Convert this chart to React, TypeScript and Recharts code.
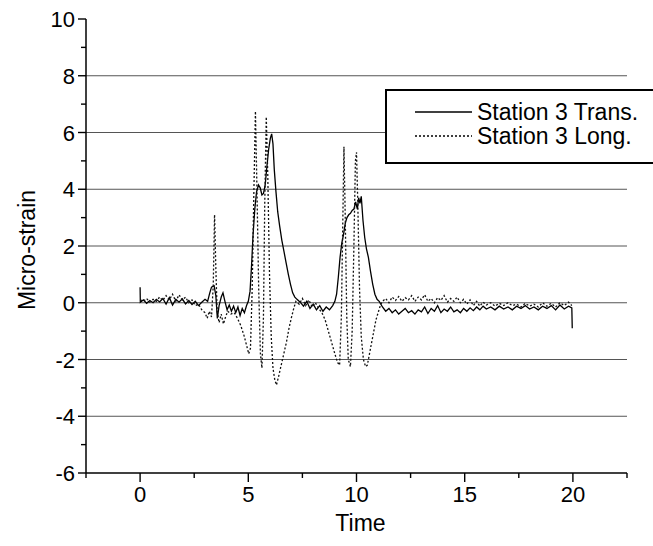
import { LineChart, Line, XAxis, YAxis, ReferenceLine, Legend } from "recharts";

// readings taken off the scanned plot: [time, micro-strain]
const transReadings: [number, number][] = [
  [0, 0.55], [0.01, 0.02], [0.15, 0.1], [0.3, -0.02], [0.45, 0.08], [0.6, 0.0], [0.75, 0.12],
  [0.9, 0.03], [1.05, 0.15], [1.2, -0.05], [1.35, 0.18], [1.5, -0.08], [1.65, 0.12], [1.8, 0.02],
  [1.95, 0.14], [2.1, -0.04], [2.25, 0.08], [2.4, -0.06], [2.55, 0.05], [2.7, -0.1], [2.85, 0.02],
  [3.0, 0.12], [3.12, 0.05], [3.22, 0.35], [3.3, 0.55], [3.42, 0.6], [3.5, 0.25], [3.57, -0.55],
  [3.65, -0.1], [3.75, 0.2], [3.83, 0.35], [3.92, 0.05], [4.02, -0.25], [4.12, -0.08], [4.22, -0.3],
  [4.32, -0.12], [4.42, -0.35], [4.52, -0.15], [4.62, -0.45], [4.72, -0.2], [4.82, -0.35], [4.92, -0.1],
  [5.0, 0.05], [5.08, 0.4], [5.15, 1.3], [5.22, 2.4], [5.3, 3.3], [5.38, 3.9], [5.47, 4.15],
  [5.55, 4.05], [5.63, 3.8], [5.7, 3.85], [5.78, 4.15], [5.86, 4.8], [5.94, 5.4], [6.02, 5.8],
  [6.08, 5.95], [6.14, 5.6], [6.2, 4.7], [6.28, 3.9], [6.36, 3.2], [6.45, 2.7], [6.55, 2.2],
  [6.65, 1.8], [6.75, 1.4], [6.85, 1.0], [6.95, 0.65], [7.05, 0.35], [7.15, 0.2], [7.25, 0.12],
  [7.4, 0.02], [7.55, -0.12], [7.7, 0.05], [7.85, -0.2], [8.0, -0.05], [8.15, -0.25], [8.3, -0.1],
  [8.45, -0.3], [8.6, -0.15], [8.75, -0.25], [8.9, -0.1], [9.0, 0.05], [9.08, 0.3], [9.16, 0.9],
  [9.24, 1.6], [9.32, 2.1], [9.4, 2.4], [9.48, 2.8], [9.56, 3.0], [9.64, 3.1], [9.72, 3.15],
  [9.8, 3.25], [9.88, 3.3], [9.96, 3.55], [10.04, 3.3], [10.1, 3.7], [10.16, 3.5], [10.22, 3.75],
  [10.3, 2.9], [10.38, 2.3], [10.46, 1.9], [10.55, 1.6], [10.65, 1.1], [10.75, 0.65], [10.85, 0.3],
  [10.95, 0.12], [11.05, 0.05], [11.2, -0.15], [11.35, -0.3], [11.5, -0.2], [11.65, -0.35], [11.8, -0.25],
  [11.95, -0.4], [12.1, -0.3], [12.25, -0.2], [12.4, -0.35], [12.55, -0.28], [12.7, -0.4], [12.85, -0.25],
  [13.0, -0.32], [13.15, -0.15], [13.3, -0.38], [13.45, -0.2], [13.6, -0.3], [13.75, -0.1], [13.9, -0.35],
  [14.05, -0.22], [14.2, -0.3], [14.35, -0.15], [14.5, -0.32], [14.65, -0.25], [14.8, -0.35], [14.95, -0.2],
  [15.1, -0.3], [15.25, -0.18], [15.4, -0.28], [15.55, -0.15], [15.7, -0.25], [15.85, -0.12], [16.0, -0.22],
  [16.2, -0.15], [16.4, -0.25], [16.6, -0.12], [16.8, -0.22], [17.0, -0.15], [17.2, -0.25], [17.4, -0.12],
  [17.6, -0.2], [17.8, -0.1], [18.0, -0.22], [18.2, -0.15], [18.4, -0.25], [18.6, -0.12], [18.8, -0.2],
  [19.0, -0.1], [19.2, -0.25], [19.4, -0.08], [19.6, -0.22], [19.8, -0.12], [19.95, -0.18], [19.97, -0.9],
];

const longReadings: [number, number][] = [
  [0, 0.1], [0.15, 0.05], [0.3, 0.15], [0.45, 0.02], [0.6, 0.12], [0.75, 0.05], [0.9, 0.2],
  [1.05, 0.08], [1.2, 0.25], [1.35, 0.1], [1.5, 0.3], [1.65, 0.05], [1.8, 0.28], [1.95, 0.1],
  [2.1, 0.2], [2.25, 0.0], [2.4, 0.1], [2.55, -0.1], [2.7, -0.05], [2.85, -0.25], [3.0, -0.35],
  [3.1, -0.55], [3.2, -0.3], [3.3, -0.5], [3.38, 0.6], [3.44, 3.1], [3.5, 1.2], [3.56, -0.3],
  [3.65, -0.7], [3.75, -0.4], [3.85, -0.75], [3.95, -0.5], [4.05, -0.3], [4.2, -0.4], [4.35, -0.35],
  [4.5, -0.55], [4.65, -0.8], [4.8, -1.15], [4.92, -1.5], [5.02, -1.8], [5.1, -1.6], [5.18, 0.5],
  [5.26, 4.0], [5.33, 6.75], [5.4, 4.0], [5.48, 0.5], [5.56, -1.8], [5.63, -2.3], [5.7, -0.5],
  [5.76, 3.5], [5.83, 6.55], [5.9, 4.5], [5.98, 1.0], [6.06, -1.2], [6.14, -2.3], [6.22, -2.7],
  [6.3, -2.9], [6.4, -2.6], [6.52, -2.2], [6.64, -1.8], [6.76, -1.4], [6.88, -0.9], [7.0, -0.5],
  [7.1, -0.2], [7.2, 0.05], [7.35, -0.05], [7.5, 0.15], [7.65, -0.1], [7.8, 0.1], [7.95, -0.15],
  [8.1, 0.0], [8.25, -0.2], [8.4, -0.35], [8.55, -0.6], [8.7, -1.0], [8.85, -1.4], [9.0, -1.8],
  [9.12, -2.1], [9.22, -2.2], [9.3, -0.5], [9.36, 2.5], [9.42, 5.5], [9.48, 3.0], [9.55, -0.5],
  [9.62, -2.0], [9.72, -2.25], [9.8, -1.0], [9.88, 2.0], [9.95, 5.0], [10.0, 5.3], [10.06, 3.5],
  [10.14, 0.5], [10.22, -1.2], [10.32, -2.0], [10.42, -2.25], [10.5, -2.2], [10.6, -1.8], [10.7, -1.4],
  [10.8, -1.0], [10.9, -0.6], [11.0, -0.35], [11.1, -0.1], [11.2, 0.05], [11.35, 0.15], [11.5, 0.0],
  [11.65, 0.2], [11.8, 0.08], [11.95, 0.22], [12.1, 0.05], [12.25, 0.18], [12.4, 0.1], [12.55, 0.25],
  [12.7, 0.05], [12.85, 0.2], [13.0, 0.1], [13.15, 0.28], [13.3, 0.05], [13.45, 0.15], [13.6, 0.0],
  [13.75, 0.18], [13.9, 0.08], [14.05, 0.25], [14.2, 0.02], [14.35, 0.15], [14.5, 0.05], [14.65, 0.2],
  [14.8, 0.0], [14.95, 0.12], [15.1, -0.05], [15.25, 0.1], [15.4, -0.1], [15.55, 0.05], [15.7, -0.12],
  [15.85, 0.02], [16.0, -0.08], [16.2, 0.0], [16.4, -0.12], [16.6, -0.02], [16.8, -0.1], [17.0, 0.0],
  [17.2, -0.1], [17.4, -0.05], [17.6, -0.15], [17.8, -0.02], [18.0, -0.12], [18.2, -0.05], [18.4, -0.15],
  [18.6, 0.0], [18.8, -0.12], [19.0, -0.02], [19.2, -0.15], [19.4, 0.0], [19.6, -0.1], [19.8, 0.02],
  [19.95, -0.1],
];

const seriesNames = ["Station 3 Trans.", "Station 3 Long."];
const xTicks = [-2.5, 0, 2.5, 5, 7.5, 10, 12.5, 15, 17.5, 20, 22.5];
const yTicks = [-6, -5, -4, -3, -2, -1, 0, 1, 2, 3, 4, 5, 6, 7, 8, 9, 10];
const gridLevels = [-4, -2, 0, 2, 4, 6, 8];

const FONT = '"Liberation Sans", Arial, Helvetica, sans-serif';

const transData = transReadings.map(([t, v]) => ({ t, v }));
const longData = longReadings.map(([t, v]) => ({ t, v }));

function YTick({ x, y, payload }: any) {
  const v = payload.value;
  const major = v % 2 === 0;
  return (
    <g>
      <line x1={x - (major ? 8 : 5)} x2={x} y1={y} y2={y} stroke="#000" strokeWidth={1.4} />
      {major && (
        <text x={x - 11} y={y + 8} textAnchor="end" fontSize={22} fontFamily={FONT} fill="#000">
          {v}
        </text>
      )}
    </g>
  );
}

function XTick({ x, y, payload }: any) {
  const v = payload.value;
  const major = v % 5 === 0;
  return (
    <g>
      <line x1={x} x2={x} y1={y} y2={y + (major ? 9 : 5)} stroke="#000" strokeWidth={1.4} />
      {major && (
        <text x={x} y={y + 29} textAnchor="middle" fontSize={22} fontFamily={FONT} fill="#000">
          {v}
        </text>
      )}
    </g>
  );
}

// the original legend frame runs off the right edge of the figure
function LegendBox() {
  const row = (dash: string | undefined, name: string) => (
    <div style={{ display: "flex", alignItems: "center", height: 24 }}>
      <svg width={57} height={4} style={{ marginRight: 5, flexShrink: 0 }}>
        <line x1={0} x2={57} y1={2} y2={2} stroke="#000" strokeWidth={1.3} strokeDasharray={dash} />
      </svg>
      <span style={{ fontSize: 23, lineHeight: "22px", fontFamily: FONT, color: "#000", whiteSpace: "nowrap" }}>
        {name}
      </span>
    </div>
  );
  return (
    <div
      style={{
        borderTop: "2px solid #000",
        borderLeft: "2px solid #000",
        borderBottom: "2px solid #000",
        background: "#fff",
        height: 75,
        width: 268,
        boxSizing: "border-box",
        paddingTop: 9,
        paddingLeft: 28,
        overflow: "hidden",
      }}
    >
      {row(undefined, seriesNames[0])}
      {row("2 2", seriesNames[1])}
    </div>
  );
}

export default function App() {
  return (
    <div style={{ position: "absolute", left: 0, top: 0, width: 653, height: 546, overflow: "hidden", background: "#fff" }}>
      <LineChart width={653} height={546} margin={{ top: 19, right: 26, bottom: 0, left: 0 }}>
        <XAxis
          dataKey="t"
          type="number"
          domain={[-2.5, 22.5]}
          ticks={xTicks}
          interval={0}
          allowDataOverflow
          height={73}
          tickSize={0}
          tickMargin={0}
          tickLine={false}
          tick={<XTick />}
          axisLine={{ stroke: "#000", strokeWidth: 1.5 }}
          label={{
            content: ({ viewBox }: any) => (
              <text
                x={viewBox.x + viewBox.width / 2 + 4}
                y={viewBox.y + 58}
                textAnchor="middle"
                fontSize={23}
                fontFamily={FONT}
                fill="#000"
              >
                Time
              </text>
            ),
          }}
        />
        <YAxis
          type="number"
          domain={[-6, 10]}
          ticks={yTicks}
          interval={0}
          allowDataOverflow
          width={86}
          tickSize={0}
          tickMargin={0}
          tickLine={false}
          tick={<YTick />}
          axisLine={{ stroke: "#000", strokeWidth: 1.5 }}
          label={{
            content: ({ viewBox }: any) => {
              const cx = 35;
              const cy = viewBox.y + viewBox.height / 2 + 4;
              return (
                <text
                  x={cx}
                  y={cy}
                  textAnchor="middle"
                  transform={`rotate(-90 ${cx} ${cy})`}
                  fontSize={23}
                  fontFamily={FONT}
                  fill="#000"
                >
                  Micro-strain
                </text>
              );
            },
          }}
        />
        {gridLevels.map((g) => (
          <ReferenceLine key={g} y={g} stroke="#555" strokeWidth={1} />
        ))}
        <Legend
          layout="horizontal"
          verticalAlign="middle"
          align="center"
          content={() => <LegendBox />}
          wrapperStyle={{ position: "absolute", left: 385, top: 89, width: 268, height: 75 }}
        />
        <Line
          data={transData}
          dataKey="v"
          name={seriesNames[0]}
          type="linear"
          stroke="#000"
          strokeWidth={1.3}
          dot={false}
          isAnimationActive={false}
        />
        <Line
          data={longData}
          dataKey="v"
          name={seriesNames[1]}
          type="linear"
          stroke="#111"
          strokeWidth={1.3}
          strokeDasharray="2 2"
          dot={false}
          isAnimationActive={false}
        />
      </LineChart>
    </div>
  );
}
